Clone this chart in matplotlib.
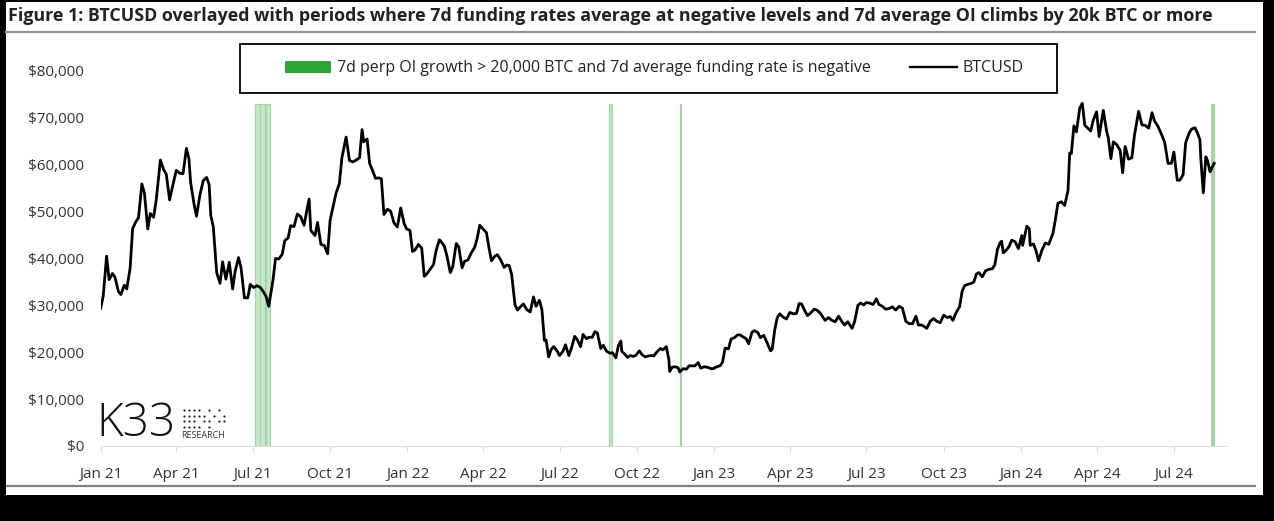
import pandas as pd
import matplotlib
matplotlib.use('Agg')
import matplotlib.pyplot as plt
import matplotlib.dates as mdates
from matplotlib.patches import Rectangle, Patch
from matplotlib.lines import Line2D
from matplotlib.ticker import FuncFormatter

plt.rcParams['font.family'] = ['Open Sans', 'DejaVu Sans']

# BTCUSD (month per line)
dates_2021 = ['01-01','01-04','01-08','01-11','01-15','01-18','01-22','01-25','01-29',
              '02-01','02-05','02-08','02-12','02-15','02-19','02-22','02-26',
              '03-01','03-05','03-08','03-13','03-17','03-20','03-24','03-28',
              '04-01','04-05','04-09','04-13','04-16','04-18','04-22','04-25','04-29',
              '05-03','05-07','05-10','05-12','05-15','05-19','05-23','05-26','05-30',
              '06-03','06-07','06-10','06-14','06-17','06-21','06-25','06-28',
              '07-02','07-06','07-10','07-14','07-17','07-20','07-22','07-25','07-28',
              '08-01','08-05','08-08','08-12','08-15','08-19','08-23','08-27','08-31',
              '09-03','09-06','09-08','09-13','09-16','09-20','09-24','09-28',
              '10-01','10-05','10-08','10-12','10-15','10-20','10-24','10-28',
              '11-01','11-05','11-08','11-10','11-14','11-17','11-20','11-24','11-28',
              '12-01','12-04','12-08','12-12','12-16','12-20','12-24','12-28','12-31']
prices_2021 = [29400,32000,40500,35500,36800,36000,33000,32300,34300,
               33500,37900,46400,47900,48700,55900,54000,46300,
               49600,48800,52400,61000,58900,58000,52500,55800,
               58800,58200,58100,63500,61300,56200,51700,49000,53500,
               56600,57300,55800,49200,46700,37000,34700,39300,35600,
               39200,33500,37300,40200,38000,31600,31600,34500,
               33800,34200,33800,32800,31800,29800,32100,35400,40000,
               39900,40900,43800,44400,47000,46800,49500,48900,47100,
               50000,52700,46000,44900,47700,43000,42800,41000,
               48200,51500,53900,56000,61500,65900,60900,60600,
               61000,61500,67500,64900,65500,60300,59000,57100,57200,
               57000,49400,50500,50100,47600,46700,50800,47500,46300]

dates_2022 = ['01-04','01-07','01-10','01-14','01-18','01-21','01-24','01-28',
              '02-01','02-04','02-08','02-10','02-14','02-17','02-21','02-24','02-28',
              '03-03','03-07','03-10','03-14','03-18','03-22','03-25','03-28',
              '04-01','04-05','04-08','04-11','04-15','04-18','04-22','04-26','04-29',
              '05-02','05-05','05-09','05-12','05-16','05-19','05-23','05-27','05-31',
              '06-03','06-07','06-10','06-13','06-15','06-18','06-21','06-24','06-28',
              '07-01','07-05','07-08','07-12','07-15','07-19','07-22','07-26','07-29',
              '08-02','08-05','08-09','08-12','08-15','08-19','08-22','08-26','08-30',
              '09-02','09-06','09-09','09-12','09-13','09-16','09-20','09-23','09-27','09-30',
              '10-04','10-07','10-11','10-14','10-18','10-21','10-25','10-29',
              '11-01','11-05','11-08','11-09','11-12','11-15','11-19','11-21','11-25','11-29',
              '12-02','12-06','12-09','12-13','12-16','12-20','12-24','12-28','12-31']
prices_2022 = [46000,41500,41800,43000,42200,36200,36700,37700,
               38700,41600,44000,43600,42600,40500,37000,38300,43200,
               42500,38000,39400,39700,41200,42400,44300,47100,
               46300,45500,42300,39500,40500,40800,39700,38100,38600,
               38500,36600,30100,29000,29800,30300,29100,28600,31800,
               29800,31100,29100,22500,22600,19000,20600,21200,20300,
               19300,20200,21600,19300,20800,23400,22700,21200,23800,
               22900,23200,23200,24400,24100,20800,21500,20200,19800,
               19900,18800,21400,22400,20200,19700,18900,19300,19100,19400,
               20300,19500,19000,19200,19300,19200,20100,20800,
               20500,21200,18500,15900,16800,16900,16700,15800,16500,16400,
               17100,17100,17100,17800,16600,16900,16800,16500,16500]

dates_2023 = ['01-04','01-08','01-11','01-14','01-18','01-21','01-25','01-29',
              '02-01','02-04','02-08','02-11','02-15','02-18','02-22','02-25',
              '03-01','03-04','03-09','03-11','03-14','03-17','03-20','03-24','03-28',
              '04-01','04-05','04-09','04-12','04-15','04-19','04-22','04-26','04-30',
              '05-03','05-07','05-10','05-13','05-17','05-21','05-25','05-29',
              '06-01','06-05','06-09','06-14','06-17','06-21','06-24','06-28',
              '07-01','07-05','07-09','07-13','07-16','07-20','07-24','07-28',
              '08-01','08-05','08-09','08-13','08-17','08-21','08-25','08-29',
              '09-01','09-05','09-11','09-15','09-19','09-23','09-27',
              '10-01','10-05','10-09','10-12','10-16','10-20','10-23','10-26','10-30',
              '11-03','11-06','11-09','11-12','11-16','11-20','11-24','11-28',
              '12-01','12-04','12-07','12-09','12-11','12-15','12-18','12-21','12-25','12-29']
prices_2023 = [16900,17100,17900,20900,20700,22800,23100,23700,
               23700,23300,22900,21800,24300,24600,24200,23100,
               23600,22400,20300,20600,24700,27400,28200,27500,27100,
               28500,28200,28300,30400,30300,28800,27800,28400,29200,
               29000,28400,27600,26800,27400,26800,26500,27700,
               26800,25800,26500,25100,26500,30000,30500,30100,
               30600,30500,30200,31400,30200,29800,29200,29300,
               29700,29000,29800,29400,26600,26100,26100,27700,
               25800,25800,25100,26600,27200,26600,26300,
               27900,27400,27600,26800,28500,29700,33000,34200,34500,
               34700,35000,36700,37000,36100,37400,37700,37800,
               38700,41900,43300,43700,41200,41900,42600,43900,43600,42100]

dates_2024 = ['01-02','01-03','01-08','01-11','01-12','01-16','01-19','01-22','01-26','01-30',
              '02-03','02-08','02-11','02-14','02-18','02-22','02-26','02-28',
              '03-01','03-04','03-07','03-11','03-14','03-17','03-20','03-24','03-27','03-31',
              '04-03','04-08','04-12','04-14','04-17','04-20','04-24','04-28',
              '05-01','05-04','05-08','05-12','05-15','05-20','05-24','05-28',
              '06-01','06-05','06-08','06-12','06-16','06-20','06-24','06-28',
              '07-01','07-05','07-08','07-12','07-15','07-19','07-22','07-26','07-29',
              '08-01','08-02','08-05','08-08','08-10','08-13','08-15','08-18']
prices_2024 = [44900,42800,46900,46300,42800,43100,41600,39500,41800,43300,
               43000,45300,48300,51800,52100,51300,54500,62500,
               62400,68300,67000,72100,73100,68400,67900,67200,69500,71300,
               66000,71600,67100,65700,61300,64900,64300,63100,
               58300,63900,61200,61500,66200,71400,68500,68400,
               67800,71100,69300,68200,66600,64800,60300,60300,
               62700,56700,56700,57900,64700,66700,67600,67900,66800,
               65300,61400,54000,61700,60900,58500,59300,60300]

# periods: 7d perp OI growth > 20k BTC and 7d avg funding negative
band_starts = ['2021-07-04', '2021-07-10', '2021-07-17', '2022-08-29', '2022-11-21', '2024-08-14', '2024-08-17']
band_ends = ['2021-07-09', '2021-07-16', '2021-07-21', '2022-09-01', '2022-11-23', '2024-08-15', '2024-08-18']
band_top = 73000

yticks = [0, 10000, 20000, 30000, 40000, 50000, 60000, 70000, 80000]

dates = []
prices = []
for yr, d, p in [(2021, dates_2021, prices_2021), (2022, dates_2022, prices_2022),
                 (2023, dates_2023, prices_2023), (2024, dates_2024, prices_2024)]:
    dates += [pd.Timestamp('%d-%s' % (yr, x)) for x in d]
    prices += p

W, H = 1274, 521
fig = plt.figure(figsize=(W / 100, H / 100), dpi=100)
fig.patch.set_facecolor('black')
# white card inside the black frame
fig.patches.append(Rectangle((6 / W, 1 - 495 / H), (1263 - 6) / W, (495 - 2) / H,
                             transform=fig.transFigure, facecolor='white', edgecolor='none', zorder=-5))

fig.text(8 / W, 1 - 16 / H, 'Figure 1: BTCUSD overlayed with periods where 7d funding rates average at negative '
         'levels and 7d average OI climbs by 20k BTC or more',
         fontsize=12.9, fontweight='bold', color='#222222', va='center', ha='left')
fig.add_artist(Line2D([6 / W, 1255 / W], [1 - 32 / H, 1 - 32 / H], color='#8595a3', lw=1.6))
fig.add_artist(Line2D([7 / W, 1255 / W], [1 - 486 / H, 1 - 486 / H], color='#6f8393', lw=1.6))

ax = fig.add_axes([100.7 / W, 1 - 446 / H, (1226 - 100.7) / W, (446 - 71) / H])
ax.set_facecolor('none')

for s, e in zip(band_starts, band_ends):
    ax.axvspan(pd.Timestamp(s), pd.Timestamp(e), ymin=0, ymax=band_top / yticks[-1],
               facecolor='#c6e7c6', edgecolor='#a3d4a3', lw=0.8, zorder=1)

ax.plot(dates, prices, color='black', lw=2.0, zorder=3)

ax.set_xlim(pd.Timestamp('2021-01-01'), pd.Timestamp('2024-09-01'))
ax.set_ylim(yticks[0], yticks[-1])
ax.set_yticks(yticks)
ax.yaxis.set_major_formatter(FuncFormatter(lambda v, p: '${:,.0f}'.format(v)))
ax.xaxis.set_major_locator(mdates.MonthLocator(bymonth=[1, 4, 7, 10]))
ax.xaxis.set_major_formatter(mdates.DateFormatter('%b %y'))
for sp in ['top', 'right', 'left']:
    ax.spines[sp].set_visible(False)
ax.spines['bottom'].set_color('#dcdcdc')
ax.tick_params(axis='y', length=0, pad=12, labelsize=11, labelcolor='#333333')
ax.tick_params(axis='x', length=4, color='#dcdcdc', pad=11, labelsize=11, labelcolor='#333333')

# legend with its own frame
fig.patches.append(Rectangle((240 / W, 1 - 93 / H), (1057 - 240) / W, (93 - 44) / H,
                             transform=fig.transFigure, facecolor='white', edgecolor='black', lw=1.3, zorder=5))
handles = [Patch(facecolor='#2ea336', edgecolor='none'), Line2D([], [], color='black', lw=1.7)]
labels = ['7d perp OI growth > 20,000 BTC and 7d average funding rate is negative', 'BTCUSD']
leg = fig.legend(handles, labels, loc='center', bbox_to_anchor=(654 / W, 1 - 68.5 / H), ncol=2,
                 frameon=False, fontsize=11.5, handlelength=2.9, handletextpad=0.35, columnspacing=2.5)
leg.set_zorder(6)
for t in leg.get_texts():
    t.set_color('#222222')

# K33 logo
fig.text(96 / W, 1 - 424 / H, 'K33', fontsize=33, fontweight='light', color='#111111', va='center', ha='left')
logo = fig.add_axes([181 / W, 1 - 430 / H, 46 / W, 23 / H])
logo.axis('off')
dot_cols = [0, 1, 2, 3, 4, 5, 6, 7, 8]
dot_rows = [[0, 1, 2, 3], [0, 1, 2, 3], [0, 1, 2, 3], [0, 1, 3], [1, 2], [0, 2, 3], [1], [0, 2], [1, 2]]
for c, rows in zip(dot_cols, dot_rows):
    logo.scatter([c] * len(rows), rows, s=2.5, color='#222222', lw=0)
logo.set_xlim(-0.5, 8.5)
logo.set_ylim(-0.5, 3.5)
logo.invert_yaxis()
fig.text(181 / W, 1 - 436 / H, 'RESEARCH', fontsize=6.5, color='#333333', va='center', ha='left')

fig.savefig('out.png', dpi=100, facecolor=fig.get_facecolor())
